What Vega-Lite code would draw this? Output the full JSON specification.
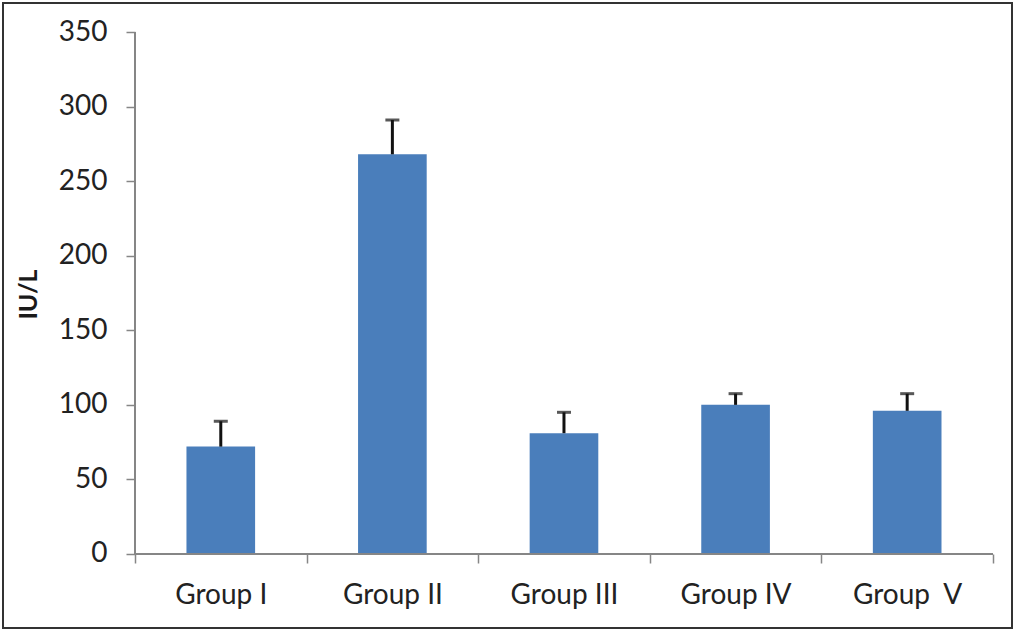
{
  "$schema": "https://vega.github.io/schema/vega-lite/v6.json",
  "width": 1015,
  "height": 633,
  "autosize": {"type": "fit", "contains": "padding"},
  "padding": {"left": 3, "top": 3, "right": 3, "bottom": 5},
  "background": "white",
  "config": {
    "view": {"stroke": "#333333", "strokeWidth": 2},
    "font": "Lato"
  },
  "data": {
    "values": [
      {"group": "Group I", "mean": 72, "upper": 89},
      {"group": "Group II", "mean": 268, "upper": 291},
      {"group": "Group III", "mean": 81, "upper": 95},
      {"group": "Group IV", "mean": 100, "upper": 107.5},
      {"group": "Group \u00a0V", "mean": 96, "upper": 107.5}
    ]
  },
  "encoding": {
    "x": {
      "field": "group",
      "type": "nominal",
      "sort": null,
      "scale": {
        "domain": ["Group I", "Group II", "Group III", "Group IV", "Group \u00a0V"],
        "paddingInner": 0,
        "paddingOuter": 0.44,
        "align": 0.874
      },
      "axis": {
        "title": null,
        "offset": -74,
        "domain": false,
        "grid": false,
        "tickBand": "extent",
        "tickColor": "#868686",
        "tickWidth": 1.5,
        "tickSize": 9,
        "labelAngle": 0,
        "labelFontSize": 28,
        "labelColor": "#222222",
        "labelPadding": 18
      }
    }
  },
  "layer": [
    {
      "mark": {"type": "bar", "color": "#4a7ebb", "width": {"band": 0.4}},
      "encoding": {
        "y": {
          "field": "mean",
          "type": "quantitative",
          "scale": {"domain": [-49.62, 369.45], "nice": false, "zero": false},
          "axis": {
            "title": "IU/L",
            "titleFontSize": 25,
            "titleFontWeight": "bold",
            "titleColor": "#1a1a1a",
            "titlePadding": 17,
            "titleY": 291,
            "offset": -132,
            "domain": false,
            "grid": false,
            "values": [0, 50, 100, 150, 200, 250, 300, 350],
            "tickColor": "#868686",
            "tickWidth": 1.5,
            "tickSize": 9,
            "labelFontSize": 28,
            "labelColor": "#222222",
            "labelPadding": 19
          }
        }
      }
    },
    {
      "mark": {"type": "rule", "color": "#111111", "strokeWidth": 3},
      "encoding": {
        "y": {"field": "mean", "type": "quantitative"},
        "y2": {"field": "upper"}
      }
    },
    {
      "mark": {"type": "tick", "color": "#111111", "size": 14, "thickness": 3},
      "encoding": {
        "y": {"field": "upper", "type": "quantitative"}
      }
    },
    {
      "mark": {"type": "rule", "color": "#868686", "strokeWidth": 1.5},
      "encoding": {
        "x": {"datum": "Group I", "bandPosition": 0},
        "y": {"datum": 0},
        "y2": {"datum": 350}
      }
    },
    {
      "mark": {"type": "rule", "color": "#868686", "strokeWidth": 1.5},
      "encoding": {
        "x": {"datum": "Group I", "bandPosition": 0},
        "x2": {"datum": "Group \u00a0V", "bandPosition": 1},
        "y": {"datum": 0}
      }
    }
  ]
}
